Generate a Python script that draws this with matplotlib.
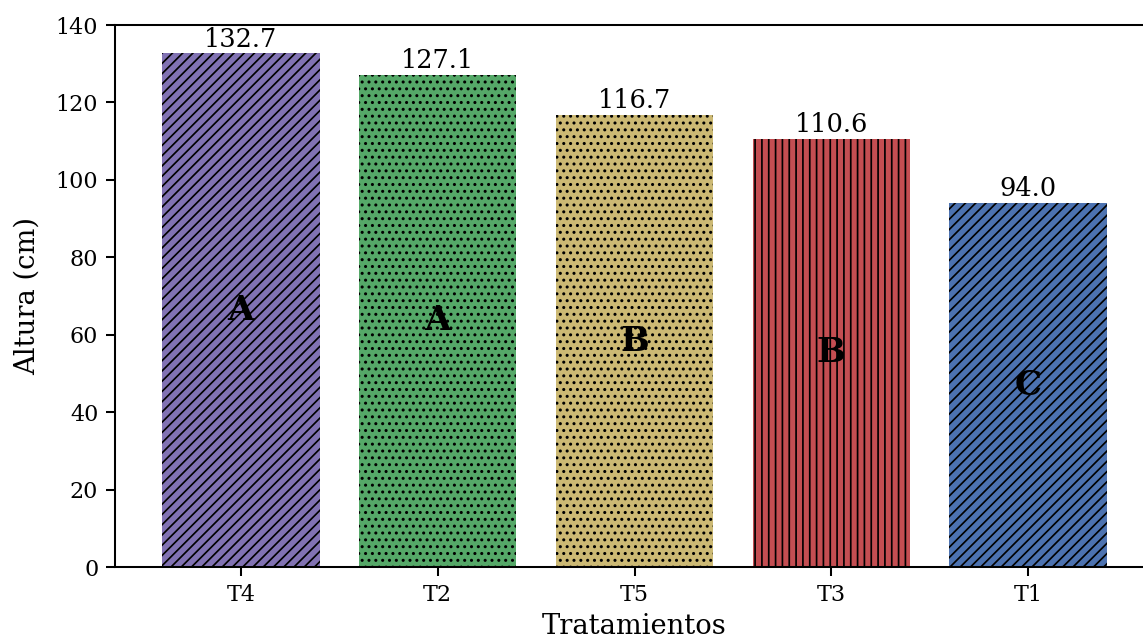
import numpy as np
import matplotlib
matplotlib.use('Agg')
import matplotlib.pyplot as plt

# Datos: altura promedio por tratamiento (ordenado de mayor a menor)
tratamientos = ['T4', 'T2', 'T5', 'T3', 'T1']
alturas = [132.7, 127.1, 116.7, 110.6, 94.0]
letras = ['A', 'A', 'B', 'B', 'C']  # grupos de Tukey
colores = ['#8172B3', '#55A868', '#CCB974', '#C44E52', '#4C72B0']
tramas = ['////', '...', '...', '|||', '////']

plt.rcParams['font.family'] = 'serif'
plt.rcParams['font.serif'] = ['DejaVu Serif']
plt.rcParams['axes.linewidth'] = 1.2
for ej in ['xtick', 'ytick']:
    plt.rcParams[ej + '.major.size'] = 5.3
    plt.rcParams[ej + '.major.width'] = 1.2
    plt.rcParams[ej + '.major.pad'] = 4.5

DPI = 123
fig = plt.figure(figsize=(1143 / DPI, 639 / DPI), dpi=DPI)
ax = fig.add_axes([115 / 1143, 1 - 567 / 639, (1154 - 115) / 1143, 542 / 639])

x = np.arange(len(tratamientos))
barras = ax.bar(x, alturas, width=0.8, color=colores)
for b, t in zip(barras, tramas):
    b.set_hatch(t)

ax.bar_label(barras, fmt='%.1f', padding=1, fontsize=15)

# Letras de significancia en el centro de cada barra
for xi, h, l in zip(x, alturas, letras):
    ax.text(xi, h / 2, l, ha='center', va='center', fontsize=20, fontweight='bold')

ax.set_xticks(x)
ax.set_xticklabels(tratamientos)
ax.set_ylim(0, 140)
ax.tick_params(labelsize=13)
ax.set_xlabel('Tratamientos', fontsize=16, labelpad=4)
ax.set_ylabel('Altura (cm)', fontsize=16, labelpad=9)

fig.savefig('out.png', dpi=DPI)
